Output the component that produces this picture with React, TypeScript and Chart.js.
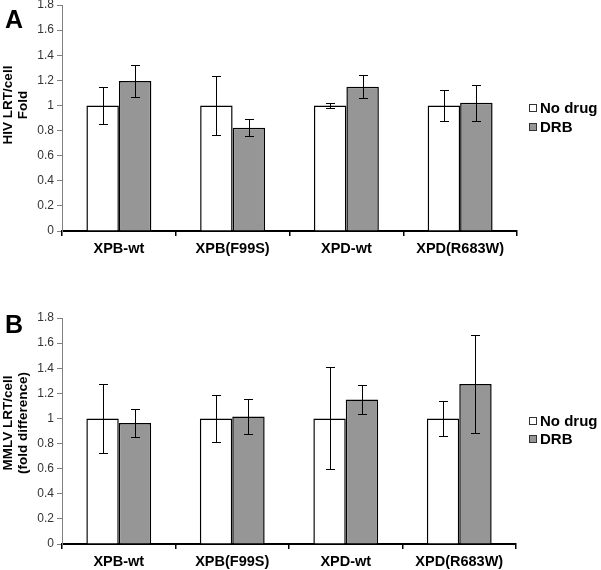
import React, { useEffect, useRef } from "react";
import { Chart, registerables } from "chart.js";

Chart.register(...registerables);

const categories = ["XPB-wt", "XPB(F99S)", "XPD-wt", "XPD(R683W)"];
const seriesNames = ["No drug", "DRB"];
const yTicks = [0, 0.2, 0.4, 0.6, 0.8, 1, 1.2, 1.4, 1.6, 1.8];

const hivNoDrug = [1, 1, 1, 1];
const hivNoDrugErr = [0.147, 0.235, 0.018, 0.125];
const hivDrb = [1.194, 0.823, 1.149, 1.022];
const hivDrbErr = [0.13, 0.07, 0.092, 0.142];

const mmlvNoDrug = [1, 1, 1, 1];
const mmlvNoDrugErr = [0.276, 0.184, 0.406, 0.14];
const mmlvDrb = [0.963, 1.016, 1.151, 1.274];
const mmlvDrbErr = [0.11, 0.141, 0.117, 0.387];

const FONT = "Arial, 'Liberation Sans', Helvetica, sans-serif";
const GRAY = "#969696";

const errorBarPlugin = {
  id: "errorBars",
  afterDatasetsDraw(chart: any) {
    const ctx = chart.ctx;
    const y = chart.scales.y;
    chart.data.datasets.forEach((ds: any, i: number) => {
      const meta = chart.getDatasetMeta(i);
      meta.data.forEach((bar: any, j: number) => {
        const v = ds.data[j];
        const e = ds.errors[j];
        const x = Math.round(bar.x) + 0.5;
        const yt = Math.round(y.getPixelForValue(v + e)) + 0.5;
        const yb = Math.round(y.getPixelForValue(v - e)) + 0.5;
        ctx.save();
        ctx.strokeStyle = "#000";
        ctx.lineWidth = 1;
        ctx.beginPath();
        ctx.moveTo(x, yt);
        ctx.lineTo(x, yb);
        ctx.moveTo(x - 4.5, yt);
        ctx.lineTo(x + 4.5, yt);
        ctx.moveTo(x - 4.5, yb);
        ctx.lineTo(x + 4.5, yb);
        ctx.stroke();
        ctx.restore();
      });
    });
  },
};

const decorPlugin = {
  id: "decor",
  afterDraw(chart: any, _args: any, opts: any) {
    const ctx = chart.ctx;
    ctx.save();
    // panel letter
    ctx.fillStyle = "#000";
    ctx.font = `bold 25px ${FONT}`;
    ctx.textAlign = "left";
    ctx.textBaseline = "alphabetic";
    ctx.fillText(opts.letter, 5, opts.letterBaseline);
    // y title
    ctx.save();
    ctx.translate(0, opts.titleCenterY);
    ctx.rotate(-Math.PI / 2);
    ctx.font = `bold 13.5px ${FONT}`;
    ctx.textAlign = "center";
    ctx.textBaseline = "middle";
    opts.titleLines.forEach((line: string, k: number) => {
      ctx.fillText(line, 0, opts.titleX[k]);
    });
    ctx.restore();
    // legend
    const colors = ["#ffffff", GRAY];
    chart.data.datasets.forEach((ds: any, k: number) => {
      const cy = opts.legendY[k];
      ctx.fillStyle = colors[k];
      ctx.fillRect(529.5, cy - 3.5, 7, 7);
      ctx.strokeStyle = "#333";
      ctx.lineWidth = 1;
      ctx.strokeRect(529.5, cy - 3.5, 7, 7);
      ctx.fillStyle = "#000";
      ctx.font = `bold 15px ${FONT}`;
      ctx.textAlign = "left";
      ctx.textBaseline = "middle";
      ctx.fillText(ds.label, 540, cy + 1);
    });
    ctx.restore();
  },
};

function makeConfig(
  noDrug: number[],
  noDrugErr: number[],
  drb: number[],
  drbErr: number[],
  decor: any,
  top: number,
  xHeight: number,
  right: number
): any {
  return {
    type: "bar",
    data: {
      labels: categories,
      datasets: [
        {
          label: seriesNames[0],
          data: noDrug,
          errors: noDrugErr,
          backgroundColor: "#ffffff",
          borderColor: "#000",
          borderWidth: 1.5,
          barPercentage: 1,
          categoryPercentage: 0.571,
        },
        {
          label: seriesNames[1],
          data: drb,
          errors: drbErr,
          backgroundColor: GRAY,
          borderColor: "#000",
          borderWidth: 1.5,
          barPercentage: 1,
          categoryPercentage: 0.571,
        },
      ],
    },
    options: {
      responsive: false,
      animation: false,
      layout: { padding: { top, right, left: 0, bottom: 0 } },
      plugins: {
        legend: { display: false },
        tooltip: { enabled: false },
        decor,
      },
      scales: {
        x: {
          grid: {
            display: true,
            drawOnChartArea: false,
            drawTicks: true,
            tickLength: 5,
            color: "#000",
            lineWidth: 1.5,
            offset: true,
          },
          border: { color: "#000", width: 2 },
          ticks: {
            color: "#000",
            font: { family: FONT, size: 14.5, weight: "bold" },
            padding: 4,
            maxRotation: 0,
            autoSkip: false,
          },
          afterFit: (s: any) => {
            s.height = xHeight;
          },
        },
        y: {
          min: 0,
          max: 1.8,
          afterBuildTicks: (s: any) => {
            s.ticks = yTicks.map((v) => ({ value: v }));
          },
          ticks: {
            color: "#333",
            font: { family: FONT, size: 12 },
            padding: 3,
            callback: (v: any) => String(v),
          },
          grid: {
            display: true,
            drawOnChartArea: false,
            drawTicks: true,
            tickLength: 5,
            color: "#808080",
          },
          border: { color: "#808080", width: 1 },
          afterFit: (s: any) => {
            s.width = 62;
            s.paddingTop = 0;
            s.paddingBottom = 0;
          },
        },
      },
    },
    plugins: [errorBarPlugin, decorPlugin],
  };
}

function Panel(props: { config: any; height: number }) {
  const ref = useRef<HTMLCanvasElement | null>(null);
  useEffect(() => {
    if (!ref.current) return;
    const chart = new Chart(ref.current, props.config);
    return () => chart.destroy();
  }, []);
  return (
    <canvas
      ref={ref}
      width={601}
      height={props.height}
      style={{ display: "block", width: 601, height: props.height }}
    />
  );
}

export default function App() {
  const configA = makeConfig(
    hivNoDrug,
    hivNoDrugErr,
    hivDrb,
    hivDrbErr,
    {
      letter: "A",
      letterBaseline: 28,
      titleLines: ["HIV LRT/cell", "Fold"],
      titleX: [8.5, 23],
      titleCenterY: 105,
      legendY: [108, 127],
    },
    5,
    54,
    84
  );
  const configB = makeConfig(
    mmlvNoDrug,
    mmlvNoDrugErr,
    mmlvDrb,
    mmlvDrbErr,
    {
      letter: "B",
      letterBaseline: 48,
      titleLines: ["MMLV LRT/cell", "(fold difference)"],
      titleX: [8.5, 23],
      titleCenterY: 138,
      legendY: [136, 154],
    },
    33,
    26,
    85
  );
  return (
    <div
      style={{
        position: "absolute",
        left: 0,
        top: 0,
        width: 601,
        height: 570,
        background: "#fff",
      }}
    >
      <Panel config={configA} height={285} />
      <Panel config={configB} height={285} />
    </div>
  );
}
